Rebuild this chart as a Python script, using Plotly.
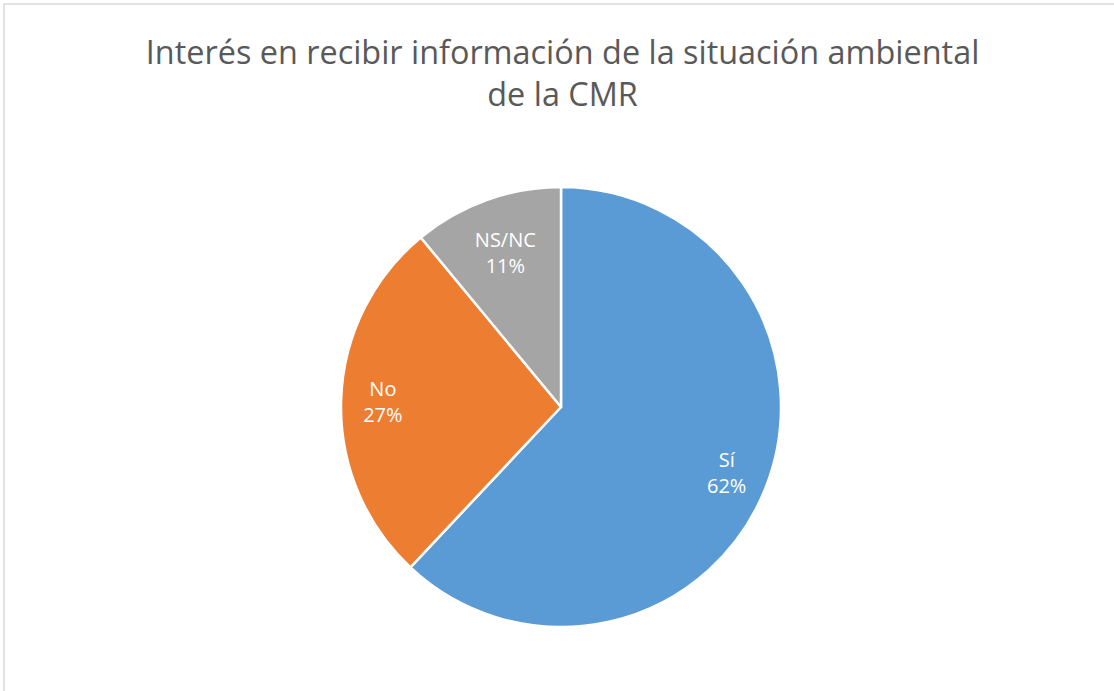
import plotly.graph_objects as go

categories = ["Sí", "No", "NS/NC"]
values = [62, 27, 11]
colors = ["#5B9BD5", "#ED7D31", "#A5A5A5"]
title_text = "Interés en recibir información de la situación ambiental<br>de la CMR"

W, H = 1114, 691
cx, cy, r = 561, 407, 220
dom = dict(x=[(cx - r) / W, (cx + r) / W], y=[1 - (cy + r) / H, 1 - (cy - r) / H])
tmpl = "%{label}<br>%{percent:.0%}"

fig = go.Figure()
fig.add_trace(go.Pie(
    labels=categories, values=values, sort=False, direction="clockwise", rotation=0,
    marker=dict(colors=colors, line=dict(color="white", width=2.5)),
    textinfo="none", showlegend=False, hoverinfo="label+percent", domain=dom,
))
# label layers: transparent rings place the labels toward the outer part of the slices
fig.add_trace(go.Pie(
    labels=categories, values=values, sort=False, direction="clockwise", rotation=0,
    hole=0.62,
    marker=dict(colors=["rgba(0,0,0,0)"] * len(values), line=dict(width=0)),
    texttemplate=[tmpl, tmpl, ""],
    textposition="inside", insidetextorientation="horizontal",
    textfont=dict(color="white", size=20, family="Open Sans"),
    showlegend=False, hoverinfo="skip", domain=dom,
))
fig.add_trace(go.Pie(
    labels=categories, values=values, sort=False, direction="clockwise", rotation=0,
    hole=0.44,
    marker=dict(colors=["rgba(0,0,0,0)"] * len(values), line=dict(width=0)),
    texttemplate=["", "", tmpl],
    textposition="inside", insidetextorientation="horizontal",
    textfont=dict(color="white", size=20, family="Open Sans"),
    showlegend=False, hoverinfo="skip", domain=dom,
))

fig.update_layout(
    width=W, height=H,
    margin=dict(l=0, r=0, t=0, b=0),
    paper_bgcolor="white",
    title=dict(text=title_text, x=0.505, xanchor="center", y=0.908, yanchor="top",
               font=dict(family="Open Sans", size=32.4, color="#595959")),
    shapes=[dict(type="rect", xref="paper", yref="paper",
                 x0=4 / W, x1=1.05, y0=-0.05, y1=1 - 4 / H,
                 line=dict(color="#D9D9D9", width=1.5), fillcolor="rgba(0,0,0,0)")],
)

fig.write_html("out.html", config={"displayModeBar": False},
               post_script="document.body.style.margin='0';")
